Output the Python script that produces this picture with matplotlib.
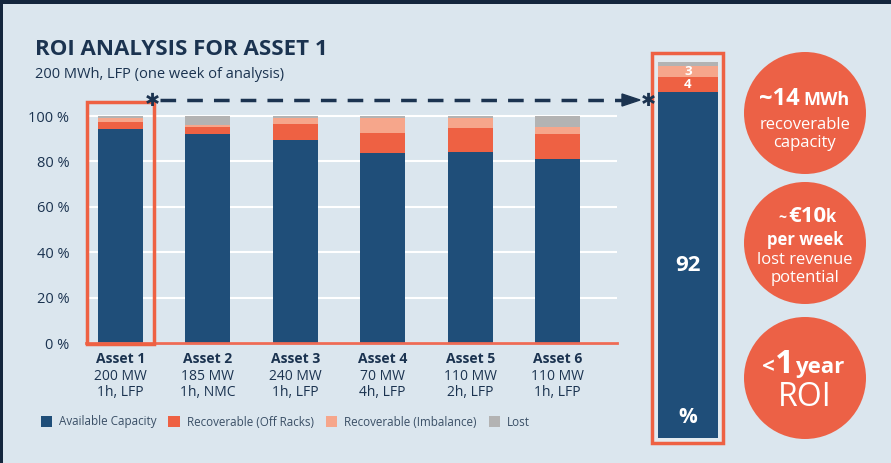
import matplotlib.pyplot as plt
from matplotlib.patches import Rectangle, Circle, Polygon

plt.rcParams['font.family'] = ['Open Sans', 'DejaVu Sans']

# data
assets = ['Asset 1', 'Asset 2', 'Asset 3', 'Asset 4', 'Asset 5', 'Asset 6']
specs = ['200 MW\n1h, LFP', '185 MW\n1h, NMC', '240 MW\n1h, LFP',
         '70 MW\n4h, LFP', '110 MW\n2h, LFP', '110 MW\n1h, LFP']
available = [94.2, 92.0, 89.4, 83.7, 84.1, 81.0]
off_racks = [3.1, 3.1, 7.0, 8.7, 10.5, 11.0]
imbalance = [2.0, 0.8, 2.9, 6.9, 4.7, 3.1]
lost = [0.7, 4.1, 0.7, 0.7, 0.7, 4.8]

series_names = ['Available Capacity', 'Recoverable (Off Racks)', 'Recoverable (Imbalance)', 'Lost']
asset1_split = [92, 4, 3, 1]
yticks = [0, 20, 40, 60, 80, 100]

NAVY = '#1f4e79'
RED = '#ee6143'
PEACH = '#f6a68b'
GREY = '#b3b3b3'
DARK = '#1b3350'
BG = '#dbe6ee'
colors = [NAVY, RED, PEACH, GREY]

W, H = 891, 463
fig = plt.figure(figsize=(W / 100, H / 100), dpi=100)
fig.patch.set_facecolor('#14263d')


def box(x0, y0, x1, y1):
    # pixel box (top-left origin) -> figure fraction
    return [x0 / W, 1 - y1 / H, (x1 - x0) / W, (y1 - y0) / H]


# background panel
bg = fig.add_axes([0, 0, 1, 1], zorder=0)
bg.set_xlim(0, W)
bg.set_ylim(H, 0)
bg.axis('off')
bg.add_patch(Rectangle((3, 4), W, H, facecolor=BG, edgecolor='none'))

bg.text(35, 55, 'ROI ANALYSIS FOR ASSET 1', fontsize=16, fontweight='bold',
        color=DARK, va='baseline')
bg.text(35, 78, '200 MWh, LFP (one week of analysis)', fontsize=10.5,
        color=DARK, va='baseline')

# main stacked bars
ax = fig.add_axes(box(86, 101, 617, 343.3), zorder=1)
ax.patch.set_alpha(0)
x = list(range(len(assets)))
bottom = [0] * len(assets)
handles = []
for vals, c, name in zip([available, off_racks, imbalance, lost], colors, series_names):
    b = ax.bar(x, vals, width=0.515, bottom=bottom, color=c, label=name, zorder=3)
    handles.append(b)
    bottom = [bt + v for bt, v in zip(bottom, vals)]
ax.set_xlim(-0.395, 5.68)
ax.set_ylim(0, (343.3 - 101) / 2.273)
ax.set_yticks(yticks)
ax.set_yticklabels([f'{t} %' for t in yticks], fontsize=10.5, color=DARK)
ax.grid(axis='y', color='white', lw=1.5, zorder=0)
ax.tick_params(axis='y', length=0, pad=12)
ax.tick_params(axis='x', length=0, pad=0)
ax.set_xticks(x)
ax.set_xticklabels([''] * len(assets))
for s in ['top', 'right', 'left']:
    ax.spines[s].set_visible(False)
ax.spines['bottom'].set_color('#ee6b55')
ax.spines['bottom'].set_linewidth(2)
ax.spines['bottom'].set_zorder(4)
for i, (a, s) in enumerate(zip(assets, specs)):
    ax.annotate(a, (i, 0), xytext=(0, -6.5), textcoords='offset points',
                ha='center', va='top', fontsize=10, fontweight='bold', color=DARK)
    ax.annotate(s, (i, 0), xytext=(0, -18.5), textcoords='offset points',
                ha='center', va='top', fontsize=10, color=DARK, linespacing=1.05)

fig.legend(handles=handles, labels=series_names, loc='center left',
           bbox_to_anchor=(30 / W, 1 - 422 / H), ncol=4, frameon=False,
           fontsize=8.4, labelcolor='#3a4f66', handlelength=1.0, handleheight=1.0,
           handletextpad=0.6, columnspacing=1.0)

# right detail bar for asset 1
ax2 = fig.add_axes(box(658, 62, 718, 438), zorder=3)
ax2.patch.set_alpha(0)
bt = 0
for v, c in zip(asset1_split, colors):
    ax2.bar(0, v, width=1, bottom=bt, color=c)
    bt += v
ax2.set_xlim(-0.5, 0.5)
ax2.set_ylim(0, 100)
ax2.axis('off')
ax2.text(0, asset1_split[0] / 2, str(asset1_split[0]), ha='center', va='center',
         fontsize=16, fontweight='bold', color='white')
ax2.text(0, 5.5, '%', ha='center', va='center', fontsize=15, fontweight='bold', color='white')
ax2.text(0, asset1_split[0] + asset1_split[1] / 2, str(asset1_split[1]), ha='center',
         va='center', fontsize=9.5, fontweight='bold', color='white')
ax2.text(0, sum(asset1_split[:2]) + asset1_split[2] / 2, str(asset1_split[2]), ha='center',
         va='center', fontsize=9.5, fontweight='bold', color='white')

# overlay: outlines, arrow, circles
ov = fig.add_axes([0, 0, 1, 1], zorder=2)
ov.patch.set_alpha(0)
ov.set_xlim(0, W)
ov.set_ylim(H, 0)
ov.axis('off')
ov.add_patch(Rectangle((652, 53), 71, 390, facecolor='#e3eaef', edgecolor=RED, lw=2.5))
ov.add_patch(Rectangle((87, 101.5), 67, 242, facecolor='none', edgecolor=RED, lw=2.5, zorder=5))
ov.plot([160, 628], [100, 100], color=DARK, lw=2.5, dashes=(4.5, 3.2))
ov.add_patch(Polygon([[622, 94], [640, 100], [622, 106]], closed=True, color=DARK))
for ax_ in [152, 648]:
    ov.text(ax_, 101, '✱', ha='center', va='center', fontsize=13, color=DARK,
            family='DejaVu Sans', zorder=6)

CIRC = '#ec6146'
for cy in [113, 243, 378]:
    ov.add_patch(Circle((805, cy), 61, facecolor=CIRC, edgecolor='none'))

w = 'white'
ov.text(800, 105, '~14', ha='right', va='baseline', fontsize=17, fontweight='bold', color=w)
ov.text(803, 105, 'MWh', ha='left', va='baseline', fontsize=13, fontweight='bold', color=w)
ov.text(805, 125, 'recoverable', ha='center', va='center', fontsize=12, color=w)
ov.text(805, 143, 'capacity', ha='center', va='center', fontsize=12, color=w)

ov.text(786, 222, '~', ha='right', va='baseline', fontsize=10, fontweight='bold', color=w)
ov.text(788, 222, '€10', ha='left', va='baseline', fontsize=16, fontweight='bold', color=w)
ov.text(826, 222, 'k', ha='left', va='baseline', fontsize=12, fontweight='bold', color=w)
ov.text(805, 240, 'per week', ha='center', va='center', fontsize=12, fontweight='bold', color=w)
ov.text(805, 260, 'lost revenue', ha='center', va='center', fontsize=12, color=w)
ov.text(805, 278, 'potential', ha='center', va='center', fontsize=12, color=w)

ov.text(775, 373, '<', ha='right', va='baseline', fontsize=16, fontweight='bold', color=w)
ov.text(775, 373, '1', ha='left', va='baseline', fontsize=24, fontweight='bold', color=w)
ov.text(795, 373, 'year', ha='left', va='baseline', fontsize=16, fontweight='bold', color=w)
ov.text(805, 397, 'ROI', ha='center', va='center', fontsize=23, color=w)

fig.savefig('out.png', dpi=100, facecolor=fig.get_facecolor())
